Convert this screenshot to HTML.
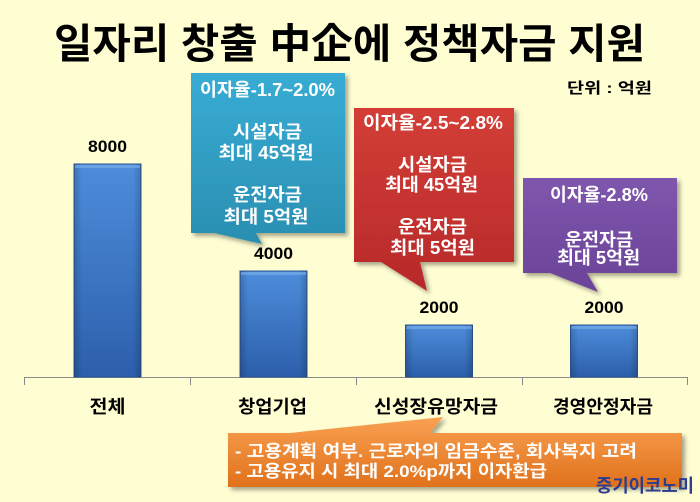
<!DOCTYPE html>
<html>
<head>
<meta charset="utf-8">
<style>
  html,body{margin:0;padding:0;background:#fffdd2;}
  body{width:700px;height:502px;overflow:hidden;}
  svg{display:block;}
  text{font-family:"Liberation Sans","Noto Sans CJK KR",sans-serif;font-weight:bold;}
</style>
</head>
<body>
<svg width="700" height="502" viewBox="0 0 700 502" xmlns="http://www.w3.org/2000/svg">
  <defs>
    <linearGradient id="gBar" x1="0" y1="0" x2="0" y2="1">
      <stop offset="0" stop-color="#4d8ddb"/>
      <stop offset="1" stop-color="#2c5fab"/>
    </linearGradient>
    <linearGradient id="gBarH" x1="0" y1="0" x2="1" y2="0">
      <stop offset="0" stop-color="#000" stop-opacity="0.18"/>
      <stop offset="0.12" stop-color="#000" stop-opacity="0"/>
      <stop offset="0.88" stop-color="#000" stop-opacity="0"/>
      <stop offset="1" stop-color="#000" stop-opacity="0.18"/>
    </linearGradient>
    <linearGradient id="gBlue" x1="0" y1="0" x2="0" y2="1">
      <stop offset="0" stop-color="#38acd4"/>
      <stop offset="1" stop-color="#2a8fb1"/>
    </linearGradient>
    <linearGradient id="gRed" x1="0" y1="0" x2="0" y2="1">
      <stop offset="0" stop-color="#d33e36"/>
      <stop offset="1" stop-color="#b7292a"/>
    </linearGradient>
    <linearGradient id="gPur" x1="0" y1="0" x2="0" y2="1">
      <stop offset="0" stop-color="#7f56ad"/>
      <stop offset="1" stop-color="#6a4398"/>
    </linearGradient>
    <linearGradient id="gOr" x1="0" y1="0" x2="0" y2="1">
      <stop offset="0" stop-color="#f9a152"/>
      <stop offset="1" stop-color="#e0711b"/>
    </linearGradient>
    <filter id="sh" x="-10%" y="-10%" width="130%" height="130%">
      <feDropShadow dx="3" dy="3" stdDeviation="2" flood-color="#000" flood-opacity="0.35"/>
    </filter>
  </defs>

  <rect x="0" y="0" width="700" height="502" fill="#fffdd2"/>

  <!-- Title -->
  <text x="54" y="58" font-size="41" fill="#000" textLength="591" lengthAdjust="spacingAndGlyphs">일자리 창출 中企에 정책자금 지원</text>

  <!-- Unit -->
  <text x="567" y="93" font-size="15" fill="#000" textLength="85" lengthAdjust="spacingAndGlyphs">단위 : 억원</text>

  <!-- Axis -->
  <line x1="24" y1="377.5" x2="688" y2="377.5" stroke="#8a8a8a" stroke-width="1"/>
  <g stroke="#8a8a8a" stroke-width="1">
    <line x1="24.5" y1="377" x2="24.5" y2="385"/>
    <line x1="190.5" y1="377" x2="190.5" y2="385"/>
    <line x1="356.5" y1="377" x2="356.5" y2="385"/>
    <line x1="522.5" y1="377" x2="522.5" y2="385"/>
    <line x1="687.5" y1="377" x2="687.5" y2="385"/>
  </g>

  <!-- Bars -->
  <g stroke="#2a5595" stroke-width="1">
    <rect x="74" y="164" width="67" height="213" fill="url(#gBar)"/>
    <rect x="240" y="271" width="67" height="106" fill="url(#gBar)"/>
    <rect x="405.5" y="325" width="67" height="52" fill="url(#gBar)"/>
    <rect x="570.5" y="325" width="67" height="52" fill="url(#gBar)"/>
  </g>
  <g>
    <rect x="74" y="164" width="67" height="213" fill="url(#gBarH)"/>
    <rect x="240" y="271" width="67" height="106" fill="url(#gBarH)"/>
    <rect x="405.5" y="325" width="67" height="52" fill="url(#gBarH)"/>
    <rect x="570.5" y="325" width="67" height="52" fill="url(#gBarH)"/>
    <rect x="75" y="165" width="65" height="3" fill="#7fb0ea" opacity="0.6"/>
    <rect x="241" y="272" width="65" height="3" fill="#7fb0ea" opacity="0.6"/>
    <rect x="406.5" y="326" width="65" height="3" fill="#7fb0ea" opacity="0.6"/>
    <rect x="571.5" y="326" width="65" height="3" fill="#7fb0ea" opacity="0.6"/>
  </g>

  <!-- Bar value labels -->
  <g font-size="17" fill="#000" text-anchor="middle">
    <text x="107.5" y="152" textLength="39" lengthAdjust="spacingAndGlyphs">8000</text>
    <text x="273.5" y="259" textLength="39" lengthAdjust="spacingAndGlyphs">4000</text>
    <text x="439" y="313" textLength="39" lengthAdjust="spacingAndGlyphs">2000</text>
    <text x="604" y="313" textLength="39" lengthAdjust="spacingAndGlyphs">2000</text>
  </g>

  <!-- Category labels -->
  <g font-size="18" fill="#000" text-anchor="middle">
    <text x="107.5" y="413" textLength="36" lengthAdjust="spacingAndGlyphs">전체</text>
    <text x="272.5" y="413" textLength="69" lengthAdjust="spacingAndGlyphs">창업기업</text>
    <text x="436" y="413" textLength="124" lengthAdjust="spacingAndGlyphs">신성장유망자금</text>
    <text x="603" y="413" textLength="100" lengthAdjust="spacingAndGlyphs">경영안정자금</text>
  </g>

  <!-- Blue callout -->
  <path d="M191,73 H345 V233 H256 L262,244 L214,233 H191 Z" fill="url(#gBlue)" filter="url(#sh)"/>
  <g font-size="18" fill="#fff" text-anchor="middle">
    <text x="267.5" y="96" textLength="135" lengthAdjust="spacingAndGlyphs">이자율-1.7~2.0%</text>
    <text x="267.5" y="138" textLength="69" lengthAdjust="spacingAndGlyphs">시설자금</text>
    <text x="266" y="159" textLength="95" lengthAdjust="spacingAndGlyphs">최대 45억원</text>
    <text x="267.5" y="201" textLength="69" lengthAdjust="spacingAndGlyphs">운전자금</text>
    <text x="266" y="223" textLength="85" lengthAdjust="spacingAndGlyphs">최대 5억원</text>
  </g>

  <!-- Red callout -->
  <path d="M354,108 H514 V262 H420 L427,291 L381,262 H354 Z" fill="url(#gRed)" filter="url(#sh)"/>
  <g font-size="18" fill="#fff" text-anchor="middle">
    <text x="433" y="129" textLength="140" lengthAdjust="spacingAndGlyphs">이자율-2.5~2.8%</text>
    <text x="432.5" y="171" textLength="69" lengthAdjust="spacingAndGlyphs">시설자금</text>
    <text x="431.5" y="191" textLength="93" lengthAdjust="spacingAndGlyphs">최대 45억원</text>
    <text x="432.5" y="233" textLength="69" lengthAdjust="spacingAndGlyphs">운전자금</text>
    <text x="432.5" y="254" textLength="85" lengthAdjust="spacingAndGlyphs">최대 5억원</text>
  </g>

  <!-- Purple callout -->
  <path d="M523,178 H677 V273 H587 L598,292 L550,273 H523 Z" fill="url(#gPur)" filter="url(#sh)"/>
  <g font-size="18" fill="#fff" text-anchor="middle">
    <text x="599" y="201" textLength="98" lengthAdjust="spacingAndGlyphs">이자율-2.8%</text>
    <text x="599" y="246" textLength="68" lengthAdjust="spacingAndGlyphs">운전자금</text>
    <text x="598.5" y="264" textLength="83" lengthAdjust="spacingAndGlyphs">최대 5억원</text>
  </g>

  <!-- Orange callout -->
  <path d="M228,433 H290 L443,417 L430,433 H682 V487 H228 Z" fill="url(#gOr)" filter="url(#sh)"/>
  <g font-size="17" fill="#fff">
    <text x="235" y="457" textLength="402" lengthAdjust="spacingAndGlyphs">- 고용계획 여부. 근로자의 임금수준, 회사복지 고려</text>
    <text x="235" y="477" textLength="312" lengthAdjust="spacingAndGlyphs">- 고용유지 시 최대 2.0%p까지 이자환급</text>
  </g>

  <!-- Watermark -->
  <text x="596" y="492" font-size="18" fill="#2d3c8e" textLength="98" lengthAdjust="spacingAndGlyphs">중기이코노미</text>
</svg>
</body>
</html>
